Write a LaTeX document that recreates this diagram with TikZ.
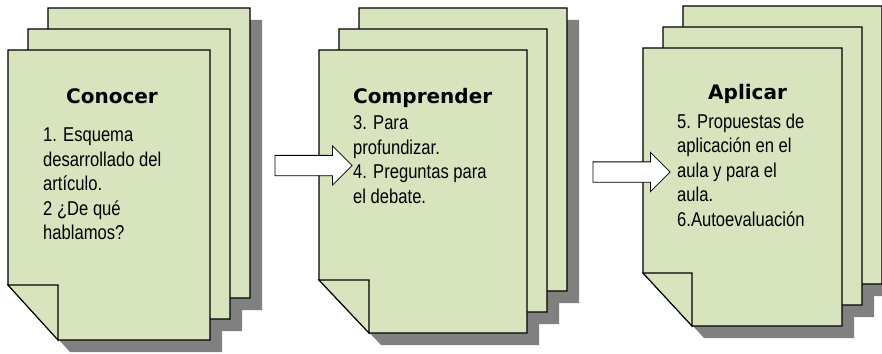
\documentclass[tikz,border=0pt]{standalone}
\usepackage{fontspec}
\setmainfont{Liberation Sans}
\newfontfamily\titlefont{DejaVu Sans}
\newfontfamily\bodyfont[FakeStretch=0.83]{Liberation Sans}
\usepackage{tikz}
\usetikzlibrary{shapes.arrows, positioning, calc}
\usepackage{xcolor}
\definecolor{sheetGreen}{RGB}{215,228,189}
\definecolor{shadowGray}{RGB}{128,128,128}

% stack of three sheets: x, y, width, height, fold width, fold height
\newcommand{\docstack}[6]{%
  \foreach \k in {2,1,0}
    \fill[docshadow] ({#1+20*\k+12},{#2-21*\k+12}) -- ++(#3,0) -- ++(0,#4) -- ++({-#3+#5},0) -- ++({-#5},{-#6}) -- cycle;
  \foreach \k in {2,1,0} {
    \draw[sheet] ({#1+20*\k},{#2-21*\k}) -- ++(#3,0) -- ++(0,#4) -- ++({-#3+#5},0) -- ++({-#5},{-#6}) -- cycle;
    \draw[sheet] ({#1+20*\k},{#2-21*\k+#4-#6}) -- ++(#5,0) -- ++(0,#6) -- cycle;
  }
}

\begin{document}
\begin{tikzpicture}[
    x=1pt, y=-1pt,
    sheet/.style={draw=black, line width=1.1pt, fill=sheetGreen},
    docshadow/.style={fill=shadowGray},
    doctitle/.style={font=\titlefont\bfseries\fontsize{20}{24}\selectfont, inner sep=0pt},
    doctext/.style={font=\bodyfont\fontsize{20}{24.5}\selectfont, align=left, inner sep=0pt, anchor=north west},
    blockarrow/.style={single arrow, draw=black, line width=0.8pt, fill=white, minimum height=77pt, inner sep=0pt, text height=9.75pt, text depth=9.75pt, single arrow head extend=9.5pt, single arrow head indent=0pt}
]
\useasboundingbox (0,0) rectangle (882,353);

% Sheets
\docstack{8}{50}{202}{290}{50}{55}
\docstack{319}{50}{208}{283}{50}{53}
\docstack{643}{48}{199}{278}{49}{53}

% Texts
\node[doctitle, anchor=base] (conocer) at (112,103) {Conocer};
\node[doctext] (conocerText) at (43,127.7) {1. Esquema\\desarrollado del\\artículo.\\2 ¿De qué\\hablamos?};

\node[doctitle, anchor=base west] (comprender) at (353,103) {Comprender};
\node[doctext] (comprenderText) at (353,115.7) {3. Para\\profundizar.\\4. Preguntas para\\el debate.};

\node[doctitle, anchor=base west] (aplicar) at (708,99) {Aplicar};
\node[doctext] (aplicarText) at (677,113.7) {5. Propuestas de\\aplicación en el\\aula y para el\\aula.\\6.Autoevaluación};

% Arrows
\node[blockarrow] (arrowA) at (308.5,165.5) {};
\node[blockarrow] (arrowB) at (626.5,172) {};

\end{tikzpicture}
\end{document}
